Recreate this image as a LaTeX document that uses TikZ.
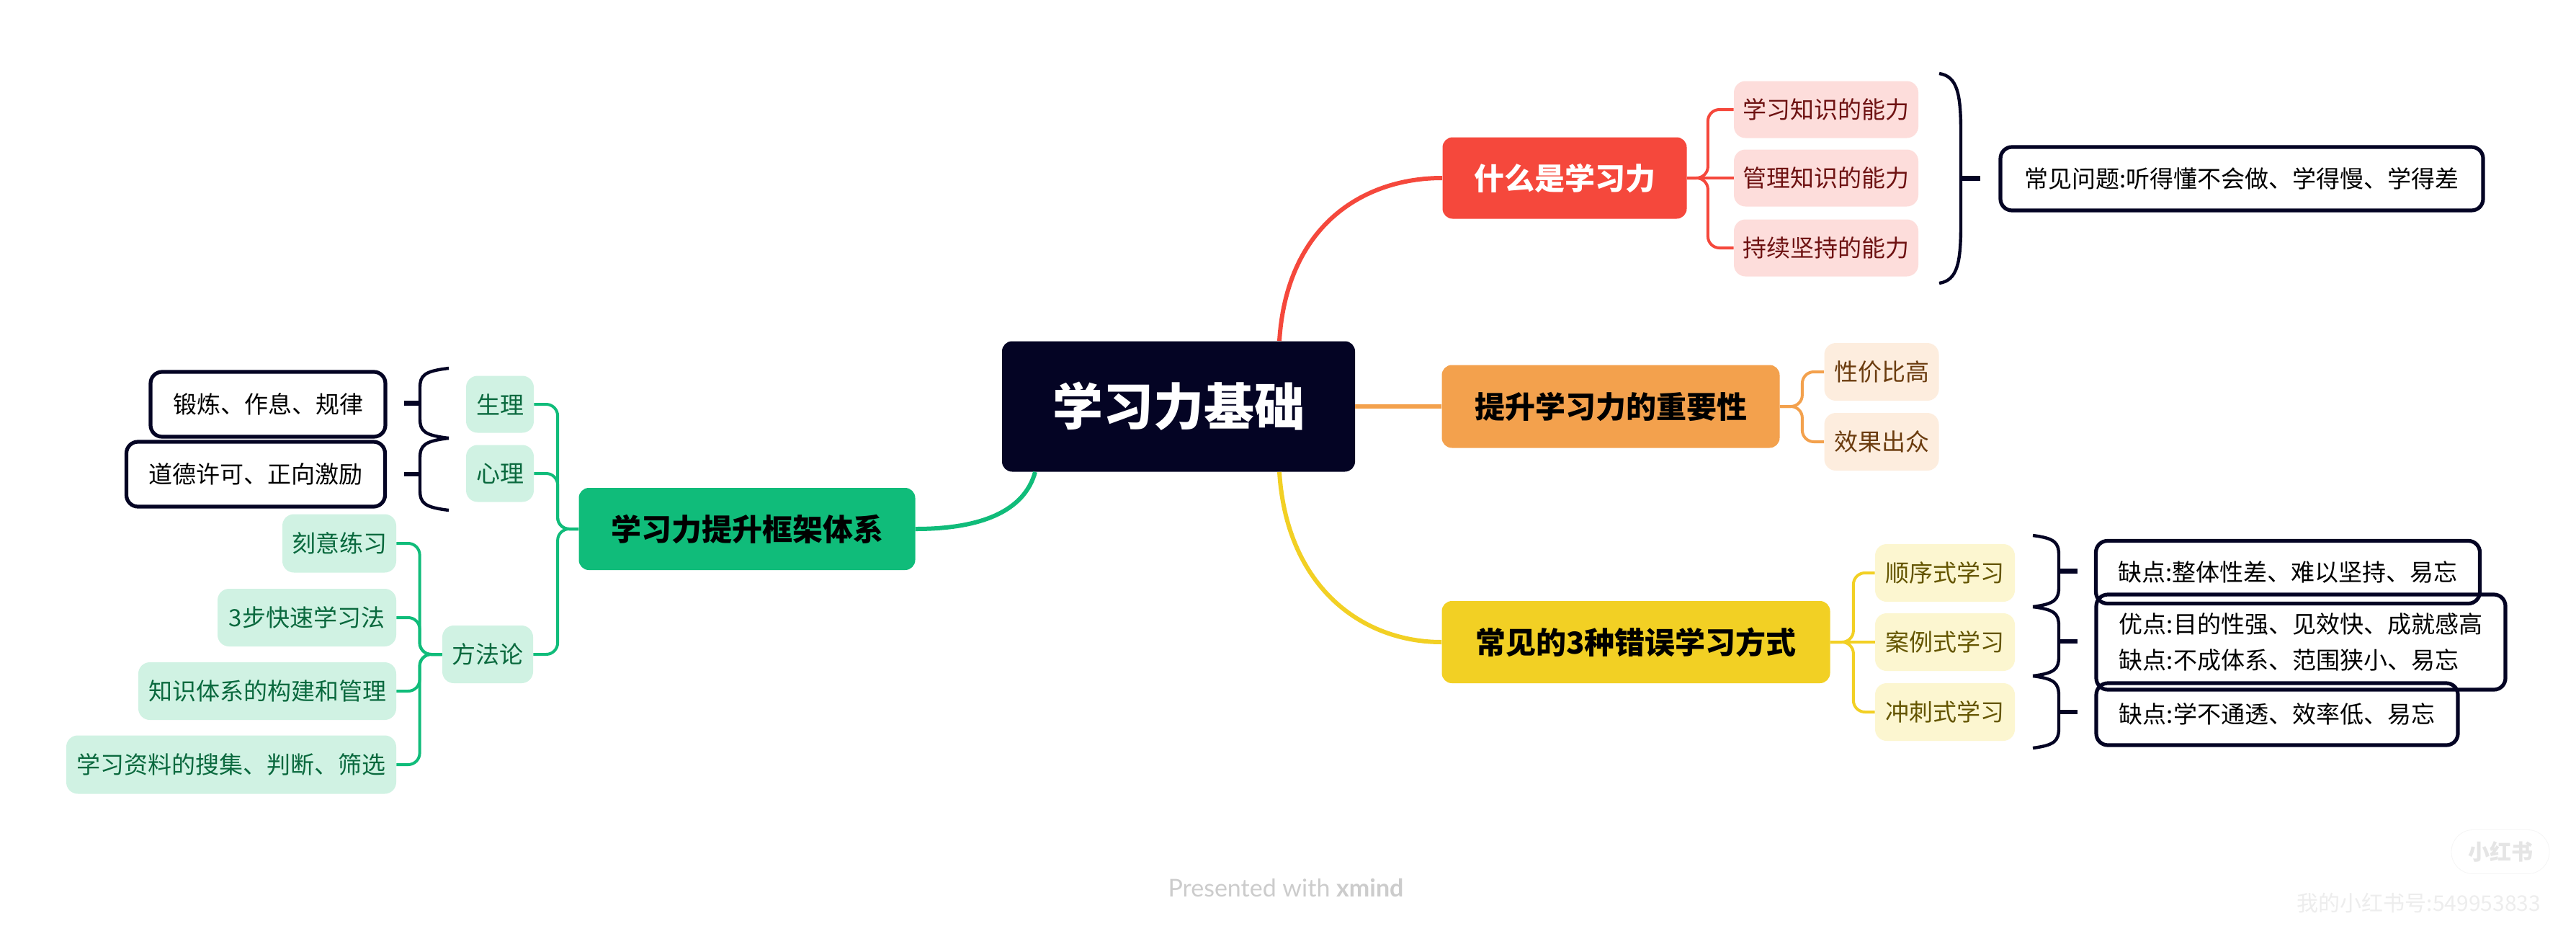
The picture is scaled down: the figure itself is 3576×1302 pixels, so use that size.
\documentclass[tikz,border=0pt]{standalone}
\usepackage{fontspec}
\setmainfont{Noto Sans CJK SC}
\newfontfamily\latofont{Lato}
\usetikzlibrary{calc}
\definecolor{cNavy}{RGB}{4,4,36}
\definecolor{cRed}{RGB}{245,72,60}
\definecolor{cRedL}{RGB}{253,221,219}
\definecolor{cRedT}{RGB}{110,18,18}
\definecolor{cOra}{RGB}{243,161,77}
\definecolor{cOraL}{RGB}{253,237,222}
\definecolor{cOraT}{RGB}{107,60,15}
\definecolor{cYel}{RGB}{242,208,36}
\definecolor{cYelL}{RGB}{252,246,208}
\definecolor{cYelT}{RGB}{100,85,0}
\definecolor{cGrn}{RGB}{16,188,122}
\definecolor{cGrnL}{RGB}{208,242,227}
\definecolor{cGrnT}{RGB}{10,105,62}
\tikzset{
  base/.style={rounded corners=7pt, inner sep=0pt, align=center},
  ww/.style={minimum width={#1*0.5pt}},
  hh/.style={minimum height={#1*0.5pt}},
  topic/.style={base, font=\fontsize{21}{25}\selectfont\bfseries},
  subnode/.style={base, rounded corners=8pt, font=\fontsize{16.5}{25}\selectfont},
  sumbox/.style={base, rounded corners=8pt, draw=cNavy, line width=2.6pt, font=\fontsize{16.5}{25}\selectfont, text=black},
  mainline/.style={line width=3pt},
  subline/.style={line width=2pt, rounded corners=8pt},
  bracestyle/.style={draw=cNavy, line width=2.2pt},
}
\newcommand\mybrace[5]{%
  \draw[bracestyle] (#1,#2) .. controls ({#1+0.85*(#4)},{#2+4}) and ({#1+(#4)},{#2+0.1*(#3-#2)}) .. ({#1+(#4)},{#2+0.28*(#3-#2)})
    -- ({#1+(#4)},{#3-0.28*(#3-#2)}) .. controls ({#1+(#4)},{#3-0.1*(#3-#2)}) and ({#1+0.85*(#4)},{#3-4}) .. (#1,#3);
  \draw[bracestyle, line width=3.2pt] ({#1+(#4)},{(#2+#3)/2}) -- ++(#5,0);
}
\begin{document}
\begin{tikzpicture}[x=0.5pt,y=-0.5pt]
\useasboundingbox (0,0) rectangle (3576,1302);
\fill[white] (0,0) rectangle (3576,1302);

% central
\node[base, fill=cNavy, text=white, ww=490, hh=181, font=\fontsize{35}{40}\selectfont\bfseries] (c) at (1636,564) {学习力基础};

% main topics
\node[topic, fill=cRed, text=white, ww=339, hh=113] (red) at (2172,247) {什么是学习力};
\node[topic, fill=cOra, text=black, ww=469, hh=115] (ora) at (2236,564) {提升学习力的重要性};
\node[topic, fill=cYel, text=black, ww=539, hh=114] (yel) at (2271,891) {常见的3种错误学习方式};
\node[topic, fill=cGrn, text=black, ww=467, hh=114] (grn) at (1037,734) {学习力提升框架体系};

% main connectors
\draw[mainline, cRed] ($(c.north)+(140,0)$) .. controls +(10,-160) and +(-110,0) .. (red.west);
\draw[mainline, cOra] (c.east) -- (ora.west);
\draw[mainline, cYel] ($(c.south)+(140,0)$) .. controls +(10,160) and +(-110,0) .. (yel.west);
\draw[mainline, cGrn] ($(c.south)+(-199,0)$) .. controls +(-15,55) and +(90,0) .. (grn.east);

% red children
\node[subnode, fill=cRedL, text=cRedT, ww=256, hh=79] (r1) at (2535,152) {学习知识的能力};
\node[subnode, fill=cRedL, text=cRedT, ww=256, hh=79] (r2) at (2535,247) {管理知识的能力};
\node[subnode, fill=cRedL, text=cRedT, ww=256, hh=79] (r3) at (2535,344) {持续坚持的能力};
\draw[subline, cRed] (red.east) -- ++(29,0) |- (r1.west);
\draw[subline, cRed] (red.east) -- (r2.west);
\draw[subline, cRed] (red.east) -- ++(29,0) |- (r3.west);
\mybrace{2692}{102}{393}{30}{27}
\node[sumbox, ww=670, hh=88] (rsum) at (3112,248) {常见问题:听得懂不会做、学得慢、学得差};

% orange children
\node[subnode, fill=cOraL, text=cOraT, ww=159, hh=80] (o1) at (2612,516) {性价比高};
\node[subnode, fill=cOraL, text=cOraT, ww=159, hh=80] (o2) at (2612,613) {效果出众};
\draw[subline, cOra] (ora.east) -- ++(31,0) |- (o1.west);
\draw[subline, cOra] (ora.east) -- ++(31,0) |- (o2.west);

% yellow children
\node[subnode, fill=cYelL, text=cYelT, ww=194, hh=80] (y1) at (2700,795) {顺序式学习};
\node[subnode, fill=cYelL, text=cYelT, ww=194, hh=80] (y2) at (2700,891) {案例式学习};
\node[subnode, fill=cYelL, text=cYelT, ww=194, hh=80] (y3) at (2700,988) {冲刺式学习};
\draw[subline, cYel] (yel.east) -- ++(32,0) |- (y1.west);
\draw[subline, cYel] (yel.east) -- (y2.west);
\draw[subline, cYel] (yel.east) -- ++(32,0) |- (y3.west);
\mybrace{2822}{743}{842}{36}{26}
\mybrace{2822}{842}{938}{36}{26}
\mybrace{2822}{938}{1038}{36}{26}
\node[sumbox, ww=533, hh=87] (ys1) at (3176,794) {缺点:整体性差、难以坚持、易忘};
\node[sumbox, ww=568, hh=132, align=left] (ys2) at (3194,891) {优点:目的性强、见效快、成就感高\\缺点:不成体系、范围狭小、易忘};
\node[sumbox, ww=502, hh=86] (ys3) at (3161,991) {缺点:学不通透、效率低、易忘};

% green children
\node[subnode, fill=cGrnL, text=cGrnT, ww=94, hh=79] (g1) at (694,561) {生理};
\node[subnode, fill=cGrnL, text=cGrnT, ww=94, hh=79] (g2) at (694,657) {心理};
\node[subnode, fill=cGrnL, text=cGrnT, ww=126, hh=80] (g3) at (677,908) {方法论};
\draw[subline, cGrn] (grn.west) -- ++(-29,0) |- (g1.east);
\draw[subline, cGrn] (grn.west) -- ++(-29,0) |- (g2.east);
\draw[subline, cGrn] (grn.west) -- ++(-29,0) |- (g3.east);
\mybrace{623}{511}{608}{-40}{-22}
\mybrace{623}{608}{708}{-40}{-22}
\node[sumbox, ww=326, hh=90] (gs1) at (372,561) {锻炼、作息、规律};
\node[sumbox, ww=359, hh=90] (gs2) at (355,658) {道德许可、正向激励};

\node[subnode, fill=cGrnL, text=cGrnT, ww=158, hh=81] (gm1) at (471,754) {刻意练习};
\node[subnode, fill=cGrnL, text=cGrnT, ww=248, hh=80] (gm2) at (426,857) {3步快速学习法};
\node[subnode, fill=cGrnL, text=cGrnT, ww=358, hh=80] (gm3) at (371,959) {知识体系的构建和管理};
\node[subnode, fill=cGrnL, text=cGrnT, ww=458, hh=81] (gm4) at (321,1061) {学习资料的搜集、判断、筛选};
\foreach \k in {gm1,gm2,gm3,gm4}
  \draw[subline, cGrn] (g3.west) -- ++(-31,0) |- (\k.east);

% watermarks
\node[text=gray!40, font=\latofont\fontsize{17}{20}\selectfont] (wm) at (1785,1232) {Presented with \textbf{xmind}};
\node[draw=gray!8, fill=white, rounded corners=15pt, ww=136, hh=61, inner sep=0pt, text=gray!20, font=\fontsize{15}{18}\selectfont\bfseries] (xhs) at (3471,1182) {小红书};
\node[text=gray!14, font=\fontsize{15}{18}\selectfont] (xhsid) at (3358,1253) {我的小红书号:549953833};
\end{tikzpicture}
\end{document}
